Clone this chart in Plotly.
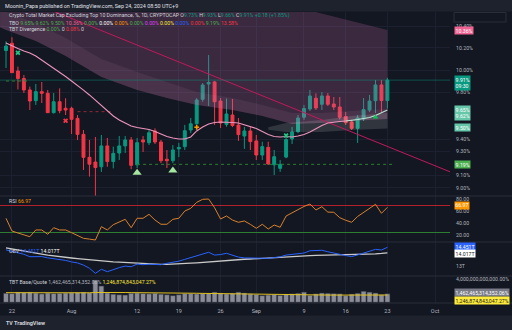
import numpy as np
import pandas as pd
import plotly.graph_objects as go

W, H = 512, 330
BG = "#131722"
BAR = "#1e222d"
GRID = "#1c2030"
TXT = "#d1d4dc"
AX = "#b2b5be"
UP = "#089981"
DN = "#f23645"
FONT = "Roboto"
FS = 5.2

# ---------------- data ----------------
dates = pd.date_range("2024-07-21", "2024-09-23", freq="D")

opens = [10.176, 10.242, 9.991, 9.924, 9.823, 9.729, 9.808, 9.794, 9.625, 9.720,
         9.663, 9.663, 9.576, 9.440, 9.248, 9.209, 9.170, 9.343, 9.213, 9.284,
         9.343, 9.393, 9.186, 9.393, 9.370, 9.469, 9.376, 9.232, 9.220, 9.318,
         9.337, 9.477, 9.530, 9.741, 9.876, 9.894, 9.726, 9.524, 9.605, 9.519,
         9.426, 9.469, 9.385, 9.267, 9.331, 9.186, 9.157, 9.250, 9.401, 9.463,
         9.586, 9.657, 9.750, 9.698, 9.770, 9.700, 9.674, 9.592, 9.546, 9.491,
         9.571, 9.648, 9.729, 9.867, 9.730]
highs = [10.26, 10.297, 10.03, 9.955, 9.853, 9.876, 9.893, 9.823, 9.796, 9.837,
         9.750, 9.677, 9.605, 9.477, 9.393, 9.418, 9.435, 9.410, 9.337, 9.426,
         9.426, 9.418, 9.410, 9.426, 9.477, 9.491, 9.393, 9.309, 9.350, 9.368,
         9.520, 9.580, 9.752, 9.884, 10.135, 9.903, 9.752, 9.748, 9.743, 9.579,
         9.503, 9.503, 9.435, 9.378, 9.378, 9.309, 9.226, 9.418, 9.503, 9.605,
         9.692, 9.823, 9.793, 9.805, 9.796, 9.761, 9.761, 9.631, 9.563, 9.605,
         9.752, 9.779, 9.911, 9.911, 9.930]
lows = [10.018, 9.973, 9.827, 9.796, 9.648, 9.692, 9.709, 9.622, 9.618, 9.620,
        9.605, 9.443, 9.393, 9.144, 9.090, 8.900, 9.128, 9.170, 9.157, 9.226,
        9.284, 9.150, 9.160, 9.292, 9.350, 9.359, 9.200, 9.160, 9.200, 9.250,
        9.309, 9.450, 9.520, 9.720, 9.683, 9.520, 9.494, 9.505, 9.502, 9.385,
        9.318, 9.309, 9.226, 9.226, 9.186, 9.103, 9.128, 9.240, 9.359, 9.450,
        9.563, 9.640, 9.648, 9.648, 9.683, 9.648, 9.567, 9.520, 9.477, 9.368,
        9.554, 9.630, 9.622, 9.630, 9.660]
closes = [10.217, 9.976, 9.924, 9.823, 9.726, 9.808, 9.794, 9.625, 9.720, 9.642,
          9.648, 9.568, 9.440, 9.248, 9.191, 9.164, 9.343, 9.213, 9.281, 9.343,
          9.393, 9.182, 9.370, 9.376, 9.454, 9.376, 9.220, 9.220, 9.309, 9.330,
          9.471, 9.530, 9.735, 9.867, 9.889, 9.720, 9.537, 9.614, 9.515, 9.438,
          9.469, 9.379, 9.267, 9.337, 9.193, 9.253, 9.190, 9.397, 9.460, 9.579,
          9.661, 9.770, 9.666, 9.770, 9.698, 9.674, 9.586, 9.539, 9.491, 9.579,
          9.652, 9.726, 9.867, 9.730, 9.910]

ma_fast = [10.245, 10.217, 10.194, 10.172, 10.153, 10.126, 10.090, 10.054, 10.018, 9.982,
           9.942, 9.902, 9.858, 9.822, 9.779, 9.735, 9.683, 9.640, 9.597, 9.562,
           9.537, 9.511, 9.498, 9.490, 9.481, 9.464, 9.443, 9.422, 9.409, 9.401,
           9.401, 9.418, 9.469, 9.503, 9.528, 9.541, 9.545, 9.545, 9.541, 9.537,
           9.520, 9.503, 9.490, 9.464, 9.439, 9.422, 9.418, 9.422, 9.418, 9.426,
           9.439, 9.460, 9.490, 9.515, 9.537, 9.545, 9.549, 9.554, 9.558, 9.567,
           9.575, 9.584, 9.601, 9.622, 9.648]

band_dates = ["2024-07-20", "2024-07-21", "2024-07-26", "2024-07-31", "2024-08-06", "2024-08-12",
              "2024-08-17", "2024-08-22", "2024-08-28", "2024-09-02", "2024-09-07",
              "2024-09-12", "2024-09-17", "2024-09-23"]
band_upper = [11.31, 11.289, 11.214, 11.139, 11.05, 10.963, 10.888, 10.82, 10.73, 10.659,
              10.59, 10.518, 10.448, 10.365]
band_mid = [10.55, 10.533, 10.43, 10.291, 10.099, 9.982, 9.893, 9.805, 9.752, 9.692,
            9.622, 9.622, 9.64, 9.657]
band_lower = [10.39, 10.365, 10.263, 10.126, 9.937, 9.822, 9.752, 9.692, 9.648, 9.597,
              9.528, 9.537, 9.554, 9.571]

wb_dates = ["2024-09-03", "2024-09-06", "2024-09-12", "2024-09-17", "2024-09-23"]
wb_upper = [9.50, 9.537, 9.562, 9.597, 9.622]
wb_lower = [9.48, 9.46, 9.46, 9.477, 9.49]

trend_dates = ["2024-07-28", "2024-10-04"]
trend_vals = [10.563, 9.119]

pivot_hi_dates = ["2024-07-21", "2024-07-25"]
pivot_hi_val = 9.902
pivot_mid_dates = ["2024-08-02", "2024-08-08"]
pivot_mid_val = 9.634
support_dates = ["2024-08-12", "2024-09-24"]
support_val = 9.19

gx_dates, gx_vals = ["2024-07-23", "2024-09-06"], [10.156, 9.430]
rx_dates, rx_vals = ["2024-07-31"], [9.556]
tri_dates, tri_vals = ["2024-08-12", "2024-08-18"], [9.122, 9.139]
or_dates, or_vals = ["2024-08-22"], [9.50]
gt_dates, gt_vals = ["2024-09-21"], [9.585]

rsi = [48.7, 27.5, 24.2, 21.1, 18.0, 29.2, 29.2, 22.0, 33.0, 29.2,
       29.2, 24.7, 20.0, 15.3, 14.0, 12.5, 34.7, 29.2, 38.0, 43.1,
       47.0, 33.0, 48.7, 48.7, 55.3, 45.8, 38.7, 38.7, 47.0, 48.7,
       60.8, 65.3, 75.3, 80.3, 80.8, 66.3, 47.5, 52.5, 45.8, 42.0,
       44.2, 38.6, 32.0, 38.7, 30.8, 37.5, 33.7, 52.5, 58.0, 63.0,
       68.4, 72.5, 62.5, 68.0, 59.0, 58.7, 49.7, 45.4, 42.0, 51.7,
       58.7, 65.8, 72.0, 57.0, 66.97]
rsi_hi, rsi_lo = 70, 25

obv = [14.25, 14.15, 14.05, 13.9, 13.71, 13.74, 13.72, 13.62, 13.55, 13.5,
       13.42, 13.3, 13.22, 13.05, 12.8, 12.4, 12.72, 12.53, 12.7, 12.85,
       12.97, 12.92, 13.13, 13.08, 13.12, 13.1, 13.08, 13.19, 13.26, 13.36,
       13.5, 13.65, 13.8, 13.95, 14.06, 13.84, 13.88, 13.98, 13.8, 13.68,
       13.62, 13.6, 13.58, 13.6, 13.58, 13.64, 13.7, 13.84, 13.88, 13.92,
       14.0, 14.18, 14.22, 14.22, 14.1, 14.02, 13.9, 13.8, 13.72, 13.85,
       13.98, 14.15, 14.29, 14.24, 14.451]
obv_ma = [14.40, 14.33, 14.26, 14.17, 14.08, 14.00, 13.92, 13.84, 13.77, 13.71,
          13.66, 13.61, 13.56, 13.51, 13.47, 13.43, 13.39, 13.35, 13.31, 13.28,
          13.25, 13.21, 13.18, 13.16, 13.14, 13.12, 13.11, 13.11, 13.12, 13.14,
          13.17, 13.20, 13.23, 13.27, 13.31, 13.35, 13.39, 13.42, 13.45, 13.48,
          13.51, 13.53, 13.56, 13.58, 13.62, 13.65, 13.69, 13.72, 13.75, 13.77,
          13.79, 13.80, 13.81, 13.82, 13.82, 13.83, 13.84, 13.84, 13.85, 13.86,
          13.88, 13.91, 13.94, 13.97, 14.017]

vol = [1.55, 1.5, 1.75, 1.7, 1.75, 1.6, 1.45, 1.6, 1.5, 1.55,
       1.6, 1.65, 1.7, 1.75, 1.65, 3.8, 2.8, 1.6, 1.4, 1.3,
       1.25, 1.55, 1.6, 1.5, 1.45, 1.55, 1.4, 1.3, 1.15, 1.3,
       1.5, 1.5, 1.45, 1.55, 1.5, 1.75, 1.6, 1.45, 1.55, 1.75,
       1.6, 1.45, 1.35, 1.15, 1.25, 1.35, 1.2, 1.4, 1.45, 1.55,
       1.75, 1.2, 1.45, 1.6, 1.55, 1.5, 1.45, 1.15, 1.4, 1.55,
       1.9, 1.75, 1.6, 1.3, 1.462]
vol_ma = [1.65, 1.64, 1.64, 1.65, 1.65, 1.64, 1.63, 1.62, 1.62, 1.61,
          1.61, 1.62, 1.62, 1.63, 1.63, 1.68, 1.70, 1.70, 1.69, 1.68,
          1.67, 1.66, 1.66, 1.65, 1.64, 1.63, 1.62, 1.61, 1.60, 1.59,
          1.58, 1.57, 1.55, 1.53, 1.51, 1.50, 1.48, 1.46, 1.44, 1.42,
          1.40, 1.38, 1.36, 1.34, 1.32, 1.30, 1.28, 1.27, 1.26, 1.25,
          1.25, 1.24, 1.24, 1.24, 1.24, 1.24, 1.24, 1.24, 1.24, 1.25,
          1.25, 1.25, 1.25, 1.25, 1.247]

x_ticks = ["2024-07-22", "2024-08-01", "2024-08-12", "2024-08-19", "2024-08-26",
           "2024-09-01", "2024-09-09", "2024-09-16", "2024-09-23", "2024-10-01"]
x_tick_text = ["22", "Aug", "12", "19", "26", "Sep", "9", "16", "23", "Oct"]
price_ticks = [9.0, 9.1, 9.3, 9.4, 9.8, 10.0, 10.2, 10.4]

# ---------------- layout geometry ----------------
XR = ["2024-07-19 23:50", "2024-10-03 12:00"]
XD = 450 / W


def py(p):
    return 1 - p / H


main_dom = [py(196), py(12)]
rsi_dom = [py(242), py(196)]
obv_dom = [py(276), py(242)]
vol_dom = [py(303), py(276)]

fig = go.Figure()

nolab = dict(hoverinfo="skip", showlegend=False)

# TBO purple cloud
fig.add_trace(go.Scatter(x=band_dates, y=band_upper, mode="lines", line=dict(width=0), **nolab))
fig.add_trace(go.Scatter(x=band_dates, y=band_lower, mode="lines", line=dict(width=0),
                         fill="tonexty", fillcolor="rgba(190,105,160,0.24)", **nolab))
fig.add_trace(go.Scatter(x=band_dates, y=band_mid, mode="lines", line=dict(width=0), **nolab))
fig.add_trace(go.Scatter(x=band_dates, y=band_lower, mode="lines", line=dict(width=0),
                         fill="tonexty", fillcolor="rgba(225,170,205,0.08)", **nolab))
# white band
fig.add_trace(go.Scatter(x=wb_dates, y=wb_upper, mode="lines", line=dict(width=0), **nolab))
fig.add_trace(go.Scatter(x=wb_dates, y=wb_lower, mode="lines", line=dict(width=0),
                         fill="tonexty", fillcolor="rgba(255,255,255,0.13)", **nolab))

# trend line
fig.add_trace(go.Scatter(x=trend_dates, y=trend_vals, mode="lines",
                         line=dict(color="#c2185b", width=1), **nolab))
# last price line
fig.add_trace(go.Scatter(x=XR, y=[closes[-1]] * 2, mode="lines",
                         line=dict(color="rgba(8,153,129,0.55)", width=0.8), **nolab))
# dotted pivot lines
fig.add_trace(go.Scatter(x=pivot_hi_dates, y=[pivot_hi_val] * 2, mode="lines",
                         line=dict(color="#2e7d32", width=1, dash="dot"), **nolab))
fig.add_trace(go.Scatter(x=pivot_mid_dates, y=[pivot_mid_val] * 2, mode="lines",
                         line=dict(color="#8e2a35", width=1, dash="dot"), **nolab))
fig.add_trace(go.Scatter(x=support_dates, y=[support_val] * 2, mode="lines",
                         line=dict(color="#2e7d32", width=1, dash="dot"), **nolab))

# candles
fig.add_trace(go.Candlestick(
    x=dates, open=opens, high=highs, low=lows, close=closes,
    increasing=dict(line=dict(color=UP, width=1), fillcolor=UP),
    decreasing=dict(line=dict(color=DN, width=1), fillcolor=DN),
    whiskerwidth=0, hoverinfo="skip", showlegend=False))

# fast MA (pink, turning mint at the end)
fig.add_trace(go.Scatter(x=dates[:58], y=ma_fast[:58], mode="lines",
                         line=dict(color="#ee94bd", width=1.1), **nolab))
fig.add_trace(go.Scatter(x=dates[57:], y=ma_fast[57:], mode="lines",
                         line=dict(color="#b9e8d4", width=1.1), **nolab))

# markers
fig.add_trace(go.Scatter(x=gx_dates, y=gx_vals, mode="markers",
                         marker=dict(symbol="x", size=4.5, color="#26c281",
                                     line=dict(width=0)), **nolab))
fig.add_trace(go.Scatter(x=rx_dates, y=rx_vals, mode="markers",
                         marker=dict(symbol="x", size=4.5, color="#f23645",
                                     line=dict(width=0)), **nolab))
fig.add_trace(go.Scatter(x=tri_dates, y=tri_vals, mode="markers",
                         marker=dict(symbol="triangle-up", size=8, color="#a5e6a0",
                                     line=dict(width=0)), **nolab))
fig.add_trace(go.Scatter(x=or_dates, y=or_vals, mode="markers",
                         marker=dict(symbol="cross", size=4, color="#ff9800",
                                     line=dict(width=0)), **nolab))
fig.add_trace(go.Scatter(x=gt_dates, y=gt_vals, mode="markers",
                         marker=dict(symbol="triangle-up", size=5, color="#00c853",
                                     line=dict(width=0)), **nolab))

# RSI pane
fig.add_trace(go.Scatter(x=XR, y=[rsi_hi] * 2, mode="lines", xaxis="x2", yaxis="y2",
                         line=dict(color="#b3202e", width=1), **nolab))
fig.add_trace(go.Scatter(x=XR, y=[rsi_lo] * 2, mode="lines", xaxis="x2", yaxis="y2",
                         line=dict(color="#2e7d32", width=1), **nolab))
fig.add_trace(go.Scatter(x=dates, y=rsi, mode="lines", xaxis="x2", yaxis="y2",
                         line=dict(color="#d9822b", width=1), **nolab))

# OBV pane
fig.add_trace(go.Scatter(x=dates, y=obv_ma, mode="lines", xaxis="x3", yaxis="y3",
                         line=dict(color="#c9c9c9", width=1.3), **nolab))
fig.add_trace(go.Scatter(x=dates, y=obv, mode="lines", xaxis="x3", yaxis="y3",
                         line=dict(color="#2962ff", width=1), **nolab))

# Volume pane
fig.add_trace(go.Bar(x=dates, y=vol, xaxis="x4", yaxis="y4",
                     marker=dict(color="#8a8d97", line=dict(color="#2a2e39", width=0.6)),
                     **nolab))
fig.add_trace(go.Scatter(x=dates, y=vol_ma, mode="lines", xaxis="x4", yaxis="y4",
                         line=dict(color="#e0c11e", width=1), **nolab))


def xax(anchor, labels=False):
    return dict(type="date", range=XR, domain=[0, XD], anchor=anchor,
                showgrid=True, gridcolor=GRID, gridwidth=1,
                tickvals=x_ticks, ticktext=x_tick_text, showticklabels=labels,
                tickfont=dict(family=FONT, size=FS + 0.3, color=AX),
                ticks="outside", ticklen=2, tickcolor="rgba(0,0,0,0)",
                zeroline=False, showline=False,
                rangeslider=dict(visible=False), fixedrange=True)


def yax(anchor, dom, rng, tv, tt, typ="linear", grid=False):
    return dict(type=typ, domain=dom, range=rng, anchor=anchor, side="right",
                tickvals=tv, ticktext=tt, showgrid=grid, gridcolor=GRID,
                tickfont=dict(family=FONT, size=FS, color=AX),
                ticks="outside", ticklen=4, tickcolor="rgba(0,0,0,0)",
                zeroline=False, showline=False, fixedrange=True)


p_top = 10 * np.exp(58 / 1117)
p_bot = 10 * np.exp(-126 / 1117)

fig.update_layout(
    width=W, height=H, margin=dict(l=0, r=0, t=0, b=0),
    paper_bgcolor=BG, plot_bgcolor=BG, showlegend=False, bargap=0.15,
    font=dict(family=FONT, size=FS, color=TXT),
    xaxis=xax("y"), xaxis2=xax("y2"), xaxis3=xax("y3"), xaxis4=xax("y4", True),
    yaxis=yax("x", main_dom, [np.log10(p_bot), np.log10(p_top)], price_ticks,
              [f"{v:.2f}%" for v in price_ticks], "log", True),
    yaxis2=yax("x2", rsi_dom, [9.17, 85.83], [20, 40, 60, 80],
               ["20.00", "40.00", "60.00", "80.00"]),
    yaxis3=yax("x3", obv_dom, [12.19, 14.87], [13], ["13T"]),
    yaxis4=yax("x4", vol_dom, [-0.12, 4.51], [4], ["4,000,000,000,000.00%"]),
)

shapes = []
# header & footer bars
shapes.append(dict(type="rect", xref="paper", yref="paper", x0=0, x1=1, y0=py(11.5), y1=1,
                   fillcolor=BAR, line=dict(width=0), layer="above"))
shapes.append(dict(type="rect", xref="paper", yref="paper", x0=0, x1=1, y0=0, y1=py(315.5),
                   fillcolor=BAR, line=dict(width=0), layer="above"))
# pane separators
for yy in (196, 242, 276, 303):
    shapes.append(dict(type="line", xref="paper", yref="paper", x0=0, x1=1,
                       y0=py(yy), y1=py(yy), line=dict(color="#2a2e39", width=1)))
# unit box at top right
shapes.append(dict(type="rect", xref="paper", yref="paper", x0=454 / W, x1=506 / W,
                   y0=py(22), y1=py(12.5), fillcolor=BG,
                   line=dict(color="#2a2e39", width=1)))
fig.update_layout(shapes=shapes)

ann = []


def text(x, y, s, size=FS, color=TXT, anchor="left"):
    ann.append(dict(x=x / W, y=py(y), xref="paper", yref="paper", text=s, showarrow=False,
                    xanchor=anchor, yanchor="middle",
                    font=dict(family=FONT, size=size, color=color)))


def span(s, c):
    return f'<span style="color:{c}">{s}</span>'


text(3, 5.5, "Moonin_Papa published on TradingView.com, Sep 24, 2024 08:50 UTC+9", FS + 0.2, "#e0e3eb")
text(7, 16, "Crypto Total Market Cap Excluding Top 10 Dominance, %, 1D, CRYPTOCAP "
     + span("O", TXT) + span("9.73%", UP) + " " + span("H", TXT) + span("9.93%", UP) + " "
     + span("L", TXT) + span("9.66%", UP) + " " + span("C", TXT) + span("9.91%", UP) + " "
     + span("+0.18 (+1.85%)", UP))
tbo_vals = [("9.65%", "#4caf50"), ("9.62%", "#4caf50"), ("9.50%", "#4caf50"),
            ("10.36%", "#f06292"), ("0.00%", "#4caf50"), ("0.00%", "#ffffff"),
            ("0.00%", "#ff9800"), ("0.00%", "#4caf50"), ("0.00%", "#e040fb"),
            ("0.00%", "#ffeb3b"), ("0.00%", "#2962ff"), ("0.00%", "#f23645"),
            ("9.19%", "#4caf50"), ("13.58%", "#f23645")]
text(7, 22.7, "TBO " + " ".join(span(v, c) for v, c in tbo_vals))
text(7, 29.2, "TBT Divergence " + span("0.00%", "#4caf50") + " " + span("0", TXT) + " "
     + span("0.08%", "#f23645") + " " + span("0", TXT))
text(7, 200.7, "RSI " + span(f"{rsi[-1]:.2f}", "#ff9800"))
text(7, 250.6, "OBV " + span(f"{obv[-1]:.3f}T", "#2962ff") + " " + span(f"{obv_ma[-1]:.3f}T", "#ffffff"))
text(7, 282.4, "TBT Base/Quote " + span("1,462,465,314,352.06%", AX) + " "
     + span("1,246,874,843,047.27%", "#ffeb3b"))
text(4, 323, "<b>TV</b>", FS, "#d1d4dc")
text(12, 323, "<b>TradingView</b>", FS + 0.3, "#d1d4dc")


def badge(yref, yval, s, bg, fg="#ffffff", yshift=0, pad=0.6):
    ann.append(dict(x=453.5 / W, xref="paper", y=yval, yref=yref, text=s, showarrow=False,
                    xanchor="left", yanchor="middle", yshift=yshift, bgcolor=bg,
                    borderpad=pad, align="left",
                    font=dict(family=FONT, size=FS, color=fg)))


badge("y", np.log10(10.36), "10.36%", "#f06292")
badge("y", np.log10(closes[-1]), f"{closes[-1]:.2f}%<br>09:30", UP, yshift=-3)
badge("y", np.log10(9.62), "9.65%<br>9.62%", "#66c7a8")
badge("y", np.log10(9.50), "9.50%", "#66c7a8")
badge("y", np.log10(support_val), "9.19%", "#4caf50")
badge("y2", rsi[-1], f"{rsi[-1]:.2f}", "#ff9800", yshift=1.5, pad=0.3)
badge("y3", obv[-1], f"{obv[-1]:.3f}T", "#2962ff", yshift=1)
badge("y3", obv_ma[-1], f"{obv_ma[-1]:.3f}T", "#ffffff", "#131722", yshift=-1)
badge("y4", vol[-1], "1,462,465,314,352.06%", "#787b86", yshift=1)
badge("y4", vol_ma[-1], "1,246,874,843,047.27%", "#ffeb3b", "#131722", yshift=-5)

fig.update_layout(annotations=ann)

fig.write_html("out.html")
